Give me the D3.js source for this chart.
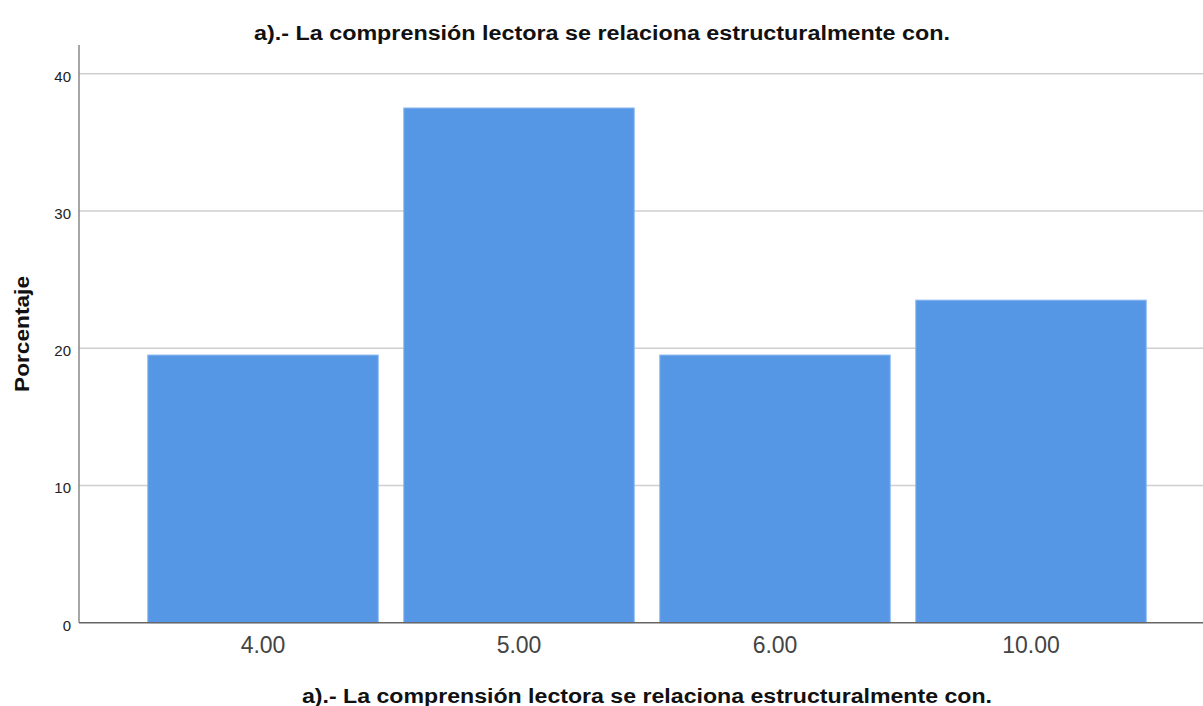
<!DOCTYPE html>
<html><head><meta charset="utf-8">
<script src="https://cdn.jsdelivr.net/npm/d3@7"></script>
<style>body{margin:0;background:#fff}svg{display:block}</style>
</head><body>
<svg id="c" width="1203" height="706"></svg>
<script>
const categories = ["4.00", "5.00", "6.00", "10.00"];
const values = [19.5, 37.5, 19.5, 23.5];
const yTicks = [0, 10, 20, 30, 40];
const titleText = "a).- La comprensión lectora se relaciona estructuralmente con.";
const xLabel = "a).- La comprensión lectora se relaciona estructuralmente con.";
const yLabel = "Porcentaje";

(function () {
const svg = d3.select("#c");
const font = "'Liberation Sans', Arial, sans-serif";
const mLeft = 79, mRight = 1203, mTop = 45, mBottom = 622.7;

const y = d3.scaleLinear().domain([0, 40]).range([mBottom, 73.7]);
const x = d3.scaleBand().domain(categories).range([135, 1159]).paddingInner(0.1).paddingOuter(0.05);

// gridlines
svg.append("g").selectAll("line").data(yTicks.filter(d => d > 0)).join("line")
  .attr("x1", mLeft).attr("x2", mRight)
  .attr("y1", d => y(d)).attr("y2", d => y(d))
  .attr("stroke", "#cfcfcf").attr("stroke-width", 1.5);

// bars
svg.append("g").selectAll("rect").data(values).join("rect")
  .attr("x", (d, i) => x(categories[i]))
  .attr("width", x.bandwidth())
  .attr("y", d => y(d))
  .attr("height", d => mBottom - y(d))
  .attr("fill", "#5597e5")
  .attr("stroke", "#86b5ee").attr("stroke-width", 1);

// y axis
const yAxis = svg.append("g").attr("transform", `translate(${mLeft},0)`)
  .call(d3.axisLeft(y).tickValues(yTicks).tickSize(0).tickPadding(8).tickFormat(d3.format("d")));
yAxis.select(".domain").remove();
yAxis.selectAll("text").attr("font-family", font).attr("font-size", 15).attr("fill", "#222").attr("dy", "0.5em");
svg.append("line").attr("x1", mLeft).attr("x2", mLeft).attr("y1", mTop).attr("y2", mBottom)
  .attr("stroke", "#888").attr("stroke-width", 1.5);

// x axis
const xAxis = svg.append("g").attr("transform", `translate(0,${mBottom})`)
  .call(d3.axisBottom(x).tickSize(0).tickPadding(14));
xAxis.select(".domain").remove();
xAxis.selectAll("text").attr("font-family", font).attr("font-size", 23).attr("fill", "#444").attr("dy", "0.71em");
svg.append("line").attr("x1", mLeft).attr("x2", mRight).attr("y1", mBottom).attr("y2", mBottom)
  .attr("stroke", "#666").attr("stroke-width", 1.5);

// titles
svg.append("text").attr("x", 602).attr("y", 40).attr("text-anchor", "middle")
  .attr("font-family", font).attr("font-weight", "bold").attr("font-size", 20).attr("fill", "#111")
  .attr("textLength", 696).attr("lengthAdjust", "spacingAndGlyphs")
  .text(titleText);
svg.append("text").attr("x", 647).attr("y", 703).attr("text-anchor", "middle")
  .attr("font-family", font).attr("font-weight", "bold").attr("font-size", 20).attr("fill", "#111")
  .attr("textLength", 690).attr("lengthAdjust", "spacingAndGlyphs")
  .text(xLabel);
svg.append("text").attr("transform", "translate(29,334) rotate(-90)").attr("text-anchor", "middle")
  .attr("font-family", font).attr("font-weight", "bold").attr("font-size", 21).attr("fill", "#111")
  .attr("textLength", 116).attr("lengthAdjust", "spacingAndGlyphs")
  .text(yLabel);
})();
</script>
</body></html>
